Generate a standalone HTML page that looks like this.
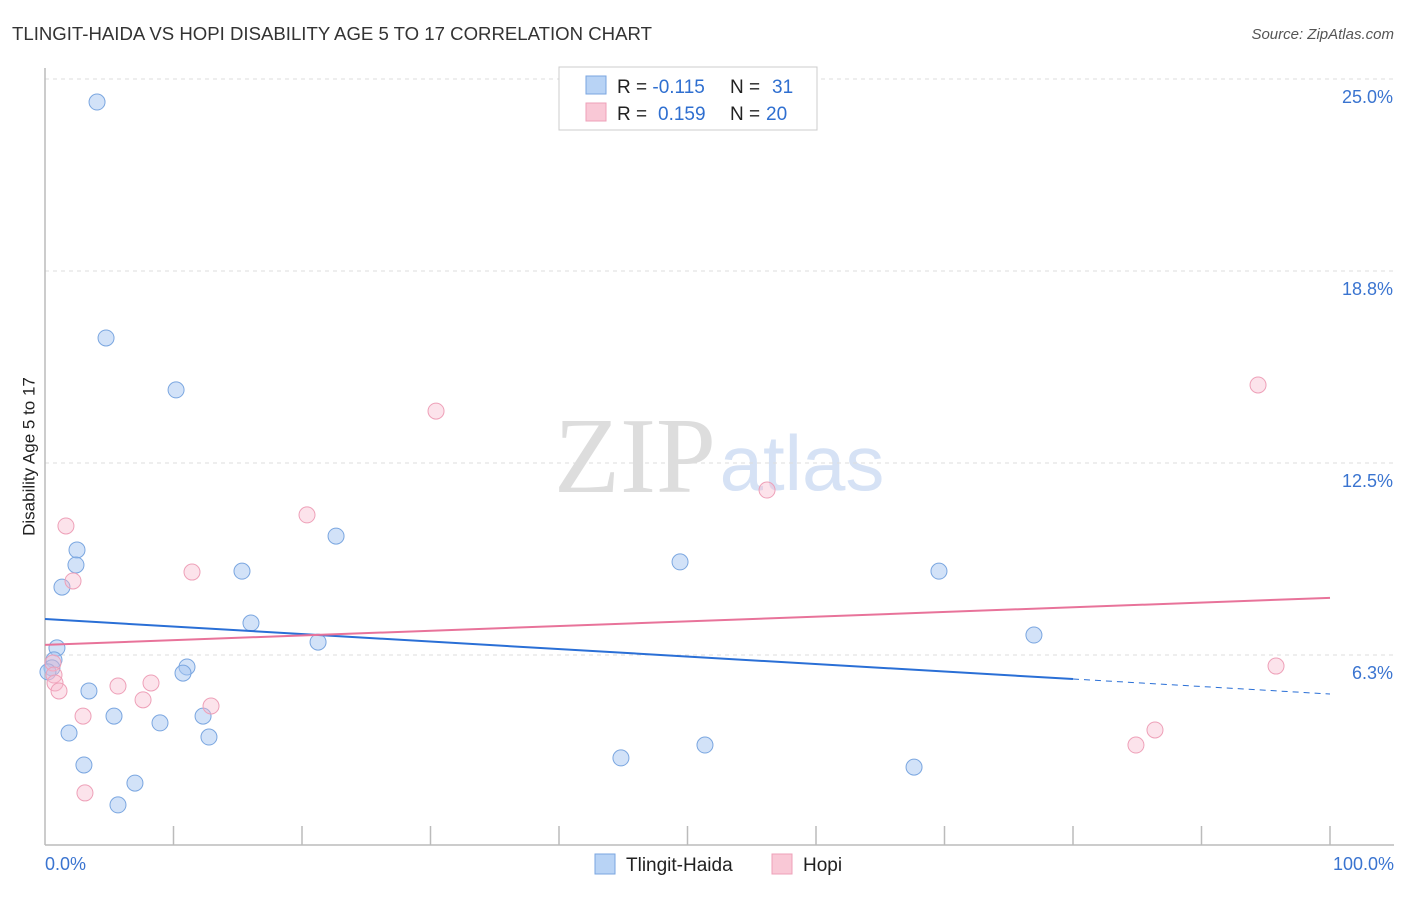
<!DOCTYPE html>
<html><head><meta charset="utf-8"><style>
body{margin:0;background:#fff;font-family:"Liberation Sans",sans-serif}
svg text{font-family:"Liberation Sans",sans-serif}
</style></head><body>
<svg id="c" width="1406" height="892">
<text x="12" y="40" font-size="18.6" fill="#333">TLINGIT-HAIDA VS HOPI DISABILITY AGE 5 TO 17 CORRELATION CHART</text>
<text x="1394" y="39" font-size="15" fill="#555" font-style="italic" text-anchor="end">Source: ZipAtlas.com</text>
<text x="34" y="456" font-size="17" fill="#222" text-anchor="middle" transform="rotate(-90 34.5 456)">Disability Age 5 to 17</text>
<text x="635" y="492" font-size="108" fill="#ddd" text-anchor="middle" style="font-family:'Liberation Serif',serif">ZIP</text>
<text x="802" y="490" font-size="78" fill="#d6e2f5" text-anchor="middle">atlas</text>
<g id="grid"></g><g id="marks"></g>
<g>
<rect x="559" y="67" width="258" height="63" fill="#fff" stroke="#ccc"/>
<rect x="586" y="76" width="20" height="18" fill="#b8d3f5" stroke="#7aa6e0"/>
<rect x="586" y="103" width="20" height="18" fill="#f9c8d6" stroke="#eea0b8"/>
<text x="617" y="93" font-size="19" fill="#222">R = <tspan fill="#2f6fd0">-0.115</tspan><tspan x="730">N = </tspan><tspan fill="#2f6fd0" x="772">31</tspan></text>
<text x="617" y="120" font-size="19" fill="#222">R = <tspan fill="#2f6fd0" x="658">0.159</tspan><tspan x="730">N = </tspan><tspan fill="#2f6fd0" x="766">20</tspan></text>
</g>
<g>
<rect x="595" y="854" width="20" height="20" fill="#b8d3f5" stroke="#7aa6e0"/>
<text x="626" y="871" font-size="19" fill="#222">Tlingit-Haida</text>
<rect x="772" y="854" width="20" height="20" fill="#f9c8d6" stroke="#eea0b8"/>
<text x="803" y="871" font-size="19" fill="#222">Hopi</text>
</g>
</svg>
<script>
const yTicks=[25,18.75,12.5,6.25];
const yTickLabels=["25.0%","18.8%","12.5%","6.3%"];
const blueX=[4.05,4.75,10.2,22.65,2.49,2.41,1.32,15.33,16.03,49.42,69.57,76.96,21.25,0.93,0.7,0.54,11.05,10.74,3.42,5.37,8.95,12.3,1.87,12.76,3.03,7.0,5.68,44.82,51.36,67.63,0.23];
const blueY=[24.25,16.57,14.88,10.12,9.67,9.18,8.46,8.98,7.29,9.28,8.98,6.90,6.67,6.48,6.09,5.83,5.86,5.66,5.08,4.26,4.04,4.26,3.71,3.58,2.67,2.08,1.37,2.9,3.32,2.6,5.7];
const pinkX=[30.43,94.4,56.19,20.39,1.63,11.44,2.18,95.8,0.62,0.7,0.78,1.09,5.68,8.25,7.63,12.92,2.96,3.11,84.9,86.38];
const pinkY=[14.19,15.04,11.62,10.81,10.45,8.95,8.66,5.89,5.99,5.6,5.34,5.08,5.24,5.34,4.79,4.59,4.26,1.76,3.32,3.81];
const blueTrend=[7.42,4.98]; const blueSolidEnd=80;
const pinkTrend=[6.58,8.11];
const NS="http://www.w3.org/2000/svg";
const X=v=>45+v*12.85, Y=v=>847-v*30.72;
function mk(t,a,p){const e=document.createElementNS(NS,t);for(const k in a)e.setAttribute(k,a[k]);p.appendChild(e);return e;}
const g=document.getElementById('grid'),m=document.getElementById('marks');
yTicks.forEach((t,i)=>{
 const l=mk('line',{x1:45,x2:1394,y1:Y(t),y2:Y(t),stroke:'#ddd','stroke-dasharray':'4,4'},g);
 
 
 const tx=mk('text',{x:1393,y:Y(t)+24,'font-size':18,fill:'#3a74d0','text-anchor':'end'},g);
 tx.textContent=yTickLabels[i];
 
 
});
const ax=mk('line',{x1:45,x2:1394,y1:845,y2:845,stroke:'#bbb','stroke-width':1.5},g);


const ay=mk('line',{x1:45,x2:45,y1:68,y2:845,stroke:'#bbb','stroke-width':1.5},g);


for(let i=1;i<=10;i++){const t=mk('line',{x1:X(i*10),x2:X(i*10),y1:826,y2:845,stroke:'#bbb','stroke-width':1.5},g);
 
 }
[["0.0%",45,'start'],["100.0%",1394,'end']].forEach(d=>{const t=mk('text',{x:d[1],y:870,'font-size':18,fill:'#3a74d0','text-anchor':d[2]},g);t.textContent=d[0];
 
 });
blueX.forEach((x,i)=>{const c=mk('circle',{cx:X(x),cy:Y(blueY[i]),r:8,fill:'rgba(165,198,242,0.5)',stroke:'#7aa6e0'},m);
 
 });
pinkX.forEach((x,i)=>{const c=mk('circle',{cx:X(x),cy:Y(pinkY[i]),r:8,fill:'rgba(248,185,205,0.4)',stroke:'#eea0b8'},m);
 
 });
const by=x=>blueTrend[0]+(blueTrend[1]-blueTrend[0])*x/100;
let l=mk('line',{x1:X(0),y1:Y(by(0)),x2:X(blueSolidEnd),y2:Y(by(blueSolidEnd)),stroke:'#2a6fd6','stroke-width':2},m);


l=mk('line',{x1:X(blueSolidEnd),y1:Y(by(blueSolidEnd)),x2:X(100),y2:Y(by(100)),stroke:'#2a6fd6','stroke-width':1,'stroke-dasharray':'6,5'},m);


l=mk('line',{x1:X(0),y1:Y(pinkTrend[0]),x2:X(100),y2:Y(pinkTrend[1]),stroke:'#e8739a','stroke-width':2},m);


</script>
</body></html>
